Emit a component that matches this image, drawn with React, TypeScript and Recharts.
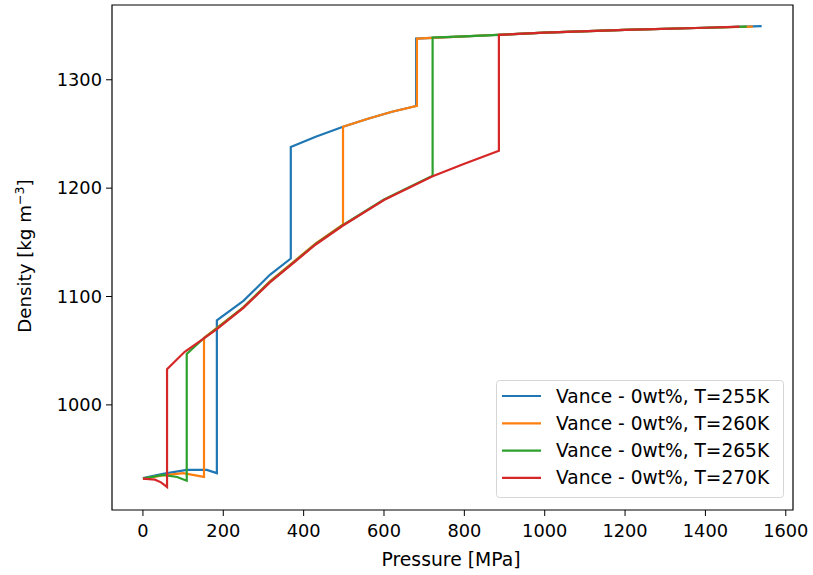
import React from "react";
import { LineChart, Line, XAxis, YAxis, Legend, ReferenceArea, Label } from "recharts";

const FONT = "'DejaVu Sans', sans-serif";

// pressure [MPa] / density [kg m^-3]
const P_255 = [0, 50, 109, 159, 184, 184, 250, 316, 368, 368, 430, 498, 560, 620, 680, 680, 800, 1000, 1200, 1400, 1540];
const RHO_255 = [932.5, 936.3, 940, 940, 937, 1078, 1096, 1120, 1135, 1238, 1247.5, 1256.6, 1264, 1270.5, 1275.8, 1338, 1340, 1343.5, 1346, 1348, 1349.5];

const P_260 = [0, 50, 100, 152, 152, 184, 250, 316, 368, 430, 498, 498, 560, 620, 682, 682, 800, 1000, 1200, 1400, 1518];
const RHO_260 = [932, 935, 937, 933.5, 1062, 1071, 1090, 1114, 1130, 1149, 1166.5, 1256.6, 1264, 1270.5, 1276, 1338, 1340, 1343.5, 1346, 1348, 1349];

const P_265 = [0, 50, 85, 109, 109, 150, 184, 250, 316, 368, 430, 498, 600, 721, 721, 800, 886, 1000, 1200, 1400, 1503];
const RHO_265 = [932, 935.4, 933.5, 930, 1047, 1061, 1070.5, 1090, 1113.5, 1129.5, 1148.5, 1166, 1189.5, 1211.5, 1339, 1340, 1341.5, 1343.5, 1346, 1348, 1349];

const P_270 = [0, 30, 45, 60, 60, 104, 150, 184, 250, 316, 368, 430, 498, 600, 721, 800, 886, 886, 1000, 1200, 1400, 1485];
const RHO_270 = [932, 931, 928.5, 924.3, 1033, 1049, 1061, 1070, 1089.5, 1113, 1129, 1148, 1165.5, 1189, 1211, 1222.5, 1234.5, 1341.5, 1343.5, 1346, 1348, 1349];

const X_TICKS = [0, 200, 400, 600, 800, 1000, 1200, 1400, 1600];
const Y_TICKS = [1000, 1100, 1200, 1300];

const zip = (p: number[], rho: number[]) => p.map((v, i) => ({ p: v, rho: rho[i] }));

const SERIES = [
  { name: "Vance - 0wt%, T=255K", color: "#1f77b4", data: zip(P_255, RHO_255) },
  { name: "Vance - 0wt%, T=260K", color: "#ff7f0e", data: zip(P_260, RHO_260) },
  { name: "Vance - 0wt%, T=265K", color: "#2ca02c", data: zip(P_265, RHO_265) },
  { name: "Vance - 0wt%, T=270K", color: "#d62728", data: zip(P_270, RHO_270) },
];

const X_DOMAIN: [number, number] = [-77, 1618];
const Y_DOMAIN: [number, number] = [903, 1369];

function LegendBox({ payload }: any) {
  const items = payload || [];
  return (
    <svg width={289} height={119} style={{ display: "block" }}>
      <rect x={0.5} y={0.5} width={287} height={117} rx={3} fill="rgba(255,255,255,0.8)" stroke="#d6d6d6" />
      {items.map((it: any, i: number) => {
        const cy = 16 + i * 27.3;
        return (
          <g key={it.value}>
            <line x1={6} x2={45} y1={cy} y2={cy} stroke={it.color} strokeWidth={2.2} />
            <text x={60} y={cy + 6.5} fontFamily={FONT} fontSize={18.6} fill="#000">
              {it.value}
            </text>
          </g>
        );
      })}
    </svg>
  );
}

export default function App() {
  return (
    <div style={{ position: "absolute", left: 0, top: 0, width: 813, height: 575, background: "#fff" }}>
      <LineChart width={813} height={575} margin={{ top: 5, right: 20, bottom: 25, left: 52 }}>
        <XAxis
          dataKey="p"
          type="number"
          domain={X_DOMAIN}
          ticks={X_TICKS}
          allowDataOverflow
          height={40}
          axisLine={false}
          tickSize={6}
          tickMargin={8}
          tickLine={{ stroke: "#000", strokeWidth: 1 }}
          tick={{ fill: "#000", fontSize: 17.8, fontFamily: FONT }}
        >
          <Label
            content={() => (
              <text x={451} y={566} textAnchor="middle" fontFamily={FONT} fontSize={18.8} fill="#000">
                Pressure [MPa]
              </text>
            )}
          />
        </XAxis>
        <YAxis
          type="number"
          domain={Y_DOMAIN}
          ticks={Y_TICKS}
          allowDataOverflow
          width={60}
          axisLine={false}
          tickSize={6}
          tickMargin={4}
          tickLine={{ stroke: "#000", strokeWidth: 1 }}
          tick={{ fill: "#000", fontSize: 17.8, fontFamily: FONT }}
        >
          <Label
            content={() => (
              <text
                transform="translate(31 256) rotate(-90)"
                textAnchor="middle"
                fontFamily={FONT}
                fontSize={18.2}
                fill="#000"
              >
                <tspan>Density [kg m</tspan>
                <tspan dy={-7} fontSize={12.7}>−3</tspan>
                <tspan dy={7}>]</tspan>
              </text>
            )}
          />
        </YAxis>
        {SERIES.map((s) => (
          <Line
            key={s.name}
            data={s.data}
            dataKey="rho"
            name={s.name}
            type="linear"
            stroke={s.color}
            strokeWidth={2.2}
            dot={false}
            activeDot={false}
            isAnimationActive={false}
          />
        ))}
        <ReferenceArea
          x1={X_DOMAIN[0]}
          x2={X_DOMAIN[1]}
          y1={Y_DOMAIN[0]}
          y2={Y_DOMAIN[1]}
          fill="none"
          stroke="#000"
          strokeWidth={1.2}
          ifOverflow="visible"
        />
        <Legend
          layout="horizontal"
          verticalAlign="middle"
          align="center"
          content={<LegendBox />}
          wrapperStyle={{ position: "absolute", left: 496, top: 380, width: 289, height: 119 }}
        />
      </LineChart>
    </div>
  );
}
